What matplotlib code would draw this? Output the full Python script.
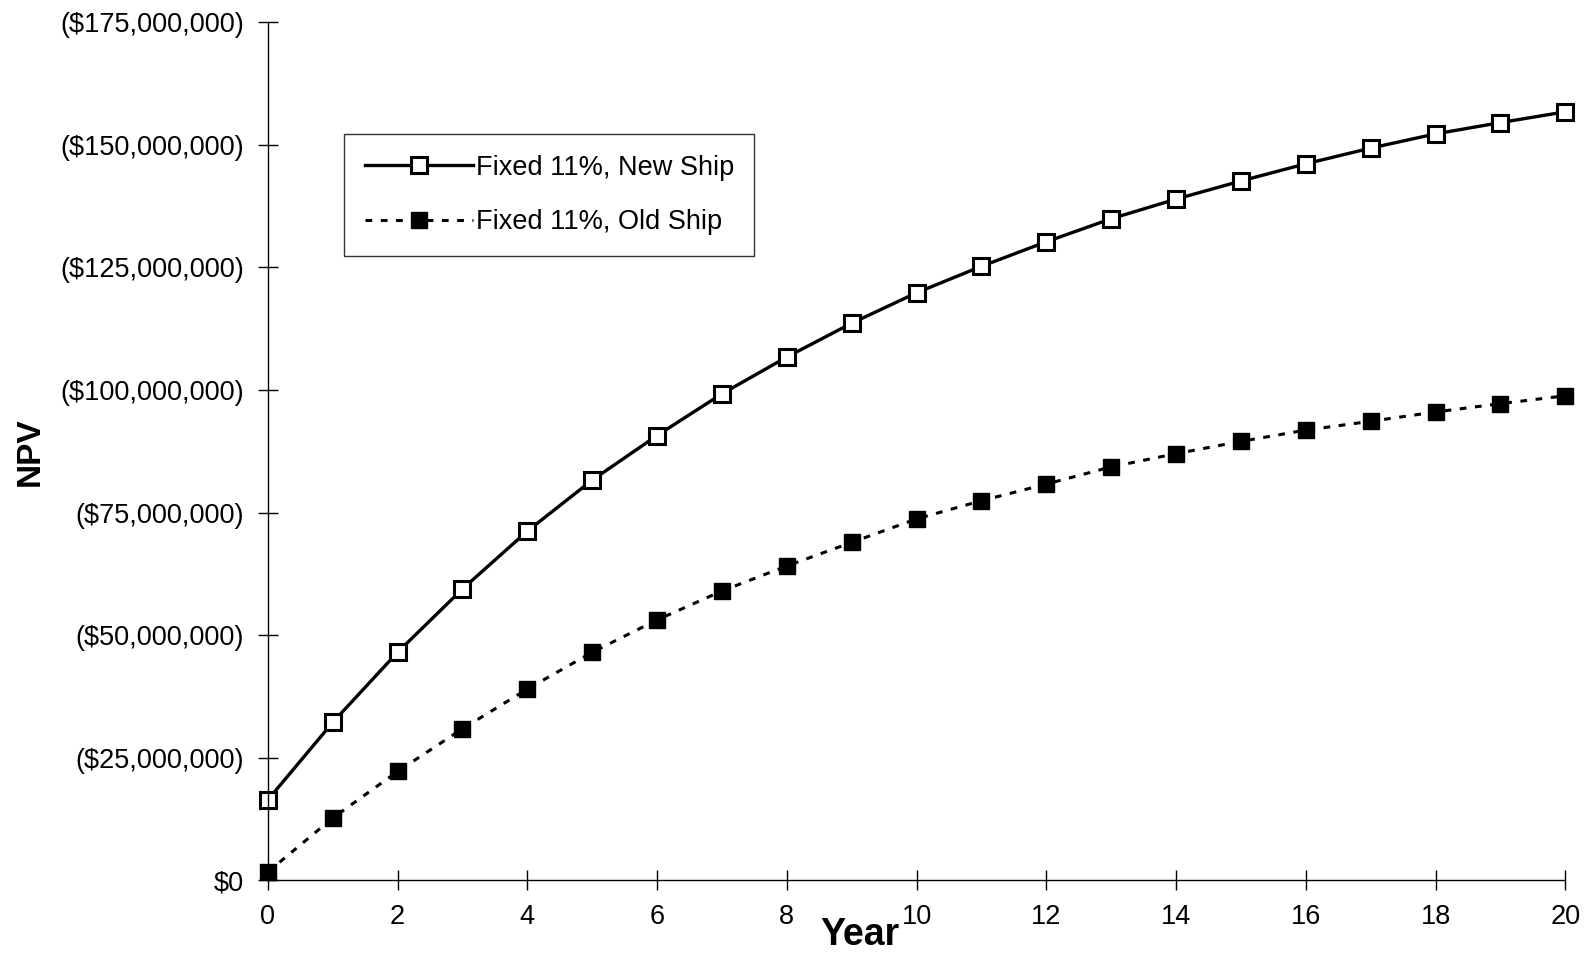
import numpy as np
import matplotlib.pyplot as plt
from matplotlib.ticker import FuncFormatter

plt.rcParams['font.family'] = ['Liberation Sans', 'DejaVu Sans']

years = list(range(21))
# NPV in millions of dollars
new_ship = [16.4, 32.2, 46.5, 59.4, 71.2, 81.6, 90.7, 99.2, 106.7, 113.6, 119.8,
            125.2, 130.2, 134.9, 138.9, 142.6, 146.1, 149.3, 152.2, 154.5, 156.7]
old_ship = [1.7, 12.7, 22.2, 30.9, 39.0, 46.5, 53.1, 59.0, 64.1, 68.9, 73.7,
            77.4, 80.8, 84.3, 87.0, 89.5, 91.8, 93.6, 95.5, 97.2, 98.8]
labels = ['Fixed 11%, New Ship', 'Fixed 11%, Old Ship']

new_ship = np.array(new_ship) * 1e6
old_ship = np.array(old_ship) * 1e6

fig = plt.figure(figsize=(15.94, 9.59), dpi=100)
ax = fig.add_axes([0.168, 0.082, 0.814, 0.895])

ax.plot(years, new_ship, '-', color='black', lw=2.4, marker='s', ms=11,
        mfc='white', mec='black', mew=2.2, label=labels[0])
ax.plot(years, old_ship, color='black', lw=2.2, ls=(0, (2.2, 2.8)), marker='s', ms=11,
        mfc='black', mec='black', label=labels[1])

ax.set_xlim(0, 20)
ax.set_ylim(0, 175e6)
ax.set_xticks(range(0, 21, 2))
ax.set_yticks(np.arange(0, 175e6 + 1, 25e6))

def money(v, pos):
    if v == 0:
        return '$0'
    return '(${:,.0f})'.format(v)
ax.yaxis.set_major_formatter(FuncFormatter(money))

for s in ['top', 'right']:
    ax.spines[s].set_visible(False)
ax.spines['left'].set_linewidth(1.0)
ax.spines['bottom'].set_linewidth(1.0)
ax.tick_params(direction='inout', length=14, width=1.0, labelsize=19.5, pad=10)
ax.tick_params(axis='x', pad=10)

for sp in ax.spines.values():
    sp.set_clip_on(False)
for ln in ax.lines:
    ln.set_clip_on(False)

ax.set_ylabel('NPV', fontsize=24, fontweight='bold')
ax.yaxis.set_label_coords(-0.171, 0.5)
ax.set_xlabel('Year', fontsize=27, fontweight='bold')
ax.xaxis.set_label_coords(0.456, -0.043)
ax.xaxis.label.set_va('top')

leg = ax.legend(loc='upper left', bbox_to_anchor=(0.059, 0.869), fontsize=19.5,
                frameon=True, fancybox=False, edgecolor='black', handlelength=4.0,
                handletextpad=0.1, borderpad=0.75, labelspacing=1.05, borderaxespad=0)
leg.get_frame().set_linewidth(1.0)

fig.savefig('out.png', dpi=100)
